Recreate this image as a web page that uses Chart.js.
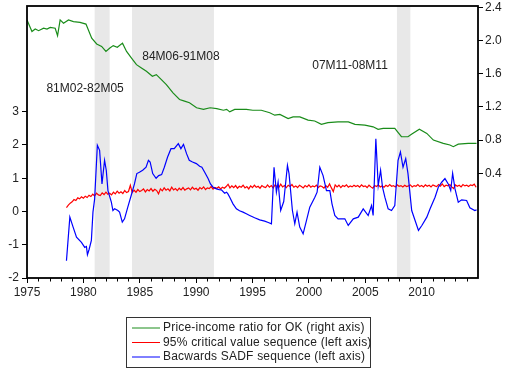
<!DOCTYPE html>
<html>
<head>
<meta charset="utf-8">
<script src="https://cdn.jsdelivr.net/npm/chart.js@4"></script>
<style>
html, body { margin: 0; padding: 0; background: #fff; }
</style>
</head>
<body>
<canvas id="chart" width="506" height="370"></canvas>
<script>
// Price-income ratio (right axis)
const greenYears = [1975.0, 1975.44, 1975.73, 1976.03, 1976.47, 1976.77, 1977.06, 1977.5, 1977.71, 1977.94,
    1978.24, 1978.68, 1979.12, 1979.7, 1980.23, 1980.74, 1981.18, 1981.62, 1982.0, 1982.35,
    1982.65, 1983.01, 1983.47, 1983.83, 1984.27, 1984.71, 1985.15, 1985.59, 1986.12, 1986.47,
    1986.92, 1987.36, 1987.95, 1988.53, 1988.97, 1989.41, 1990.04, 1990.65, 1991.24, 1991.83,
    1992.42, 1992.71, 1992.98, 1993.42, 1994.45, 1995.03, 1995.78, 1996.53, 1996.97, 1997.43,
    1998.16, 1998.6, 1999.2, 1999.93, 2000.52, 2001.11, 2001.69, 2002.58, 2003.5, 2004.09,
    2004.97, 2005.7, 2006.14, 2006.59, 2007.62, 2008.21, 2008.79, 2009.1, 2009.8, 2010.46,
    2011.04, 2011.92, 2012.51, 2012.81, 2013.25, 2014.13, 2014.87];
const greenValues = [2.25, 2.11, 2.14, 2.12, 2.15, 2.14, 2.16, 2.15, 2.06, 2.25,
    2.21, 2.25, 2.23, 2.22, 2.20, 2.03, 1.96, 1.93, 1.87, 1.91,
    1.94, 1.92, 1.97, 1.87, 1.79, 1.71, 1.67, 1.63, 1.57, 1.59,
    1.53, 1.47, 1.37, 1.29, 1.27, 1.25, 1.19, 1.17, 1.19, 1.18,
    1.16, 1.17, 1.14, 1.17, 1.17, 1.16, 1.16, 1.13, 1.10, 1.11,
    1.06, 1.08, 1.08, 1.04, 1.03, 0.99, 1.01, 1.02, 1.02, 0.99,
    0.98, 0.96, 0.93, 0.94, 0.94, 0.84, 0.84, 0.87, 0.93, 0.88,
    0.80, 0.76, 0.74, 0.72, 0.75, 0.76, 0.76];

// 95% critical value sequence (left axis), every two months from 1978M07
const redStart = 1978.5;
const redStep = 1 / 6;
const redValues = [
    0.12, 0.19, 0.25, 0.29, 0.36, 0.33, 0.41, 0.38, 0.44, 0.40, 0.46, 0.42,
    0.49, 0.45, 0.52, 0.47, 0.55, 0.50, 0.48, 0.56, 0.51, 0.58, 0.52, 0.55,
    0.50, 0.58, 0.53, 0.61, 0.55, 0.59, 0.54, 0.63, 0.57, 0.60, 0.79, 0.57,
    0.64, 0.58, 0.66, 0.60, 0.63, 0.68, 0.59, 0.66, 0.62, 0.69, 0.61, 0.67,
    0.63, 0.53, 0.68, 0.62, 0.71, 0.64, 0.68, 0.62, 0.73, 0.65, 0.69, 0.63,
    0.70, 0.65, 0.72, 0.64, 0.68, 0.71, 0.65, 0.73, 0.67, 0.70, 0.64, 0.72,
    0.68, 0.74, 0.66, 0.71, 0.69, 0.75, 0.67, 0.72, 0.70, 0.74, 0.68, 0.73,
    0.70, 0.75, 0.82, 0.71, 0.77, 0.72, 0.78, 0.70, 0.76, 0.73, 0.79, 0.71,
    0.75, 0.68, 0.77, 0.72, 0.79, 0.73, 0.76, 0.70, 0.78, 0.74, 0.72, 0.80,
    0.73, 0.78, 0.71, 0.80, 0.75, 0.72, 0.82, 0.74, 0.78, 0.72, 0.79, 0.75,
    0.81, 0.73, 0.77, 0.72, 0.79, 0.75, 0.71, 0.78, 0.74, 0.80, 0.73, 0.77,
    0.74, 0.79, 0.72, 0.77, 0.75, 0.70, 0.78, 0.73, 0.83, 0.71, 0.60, 0.80,
    0.74, 0.79, 0.72, 0.78, 0.75, 0.80, 0.73, 0.77, 0.74, 0.79, 0.75, 0.78,
    0.73, 0.80, 0.75, 0.77, 0.72, 0.79, 0.74, 0.70, 0.78, 0.75, 0.80, 0.74,
    0.77, 0.73, 0.79, 0.75, 0.81, 0.76, 0.78, 0.74, 0.80, 0.76, 0.78, 0.74,
    0.79, 0.75, 0.77, 0.80, 0.74, 0.78, 0.76, 0.81, 0.75, 0.78, 0.74, 0.80,
    0.76, 0.79, 0.74, 0.80, 0.77, 0.75, 0.81, 0.76, 0.83, 0.75, 0.79, 0.77,
    0.81, 0.74, 0.69, 0.80, 0.76, 0.79, 0.74, 0.81, 0.77, 0.79, 0.75, 0.80,
    0.78, 0.82, 0.73];

// Backwards SADF sequence (left axis)
const blueYears = [
    1978.5, 1978.8, 1979.09, 1979.39, 1979.83, 1980.12, 1980.27, 1980.36, 1980.5, 1980.71,
    1980.85, 1981.0, 1981.24, 1981.44, 1981.65, 1981.88, 1982.03, 1982.18, 1982.48, 1982.62,
    1982.77, 1983.06, 1983.21, 1983.45, 1983.65, 1983.94, 1984.24, 1984.53, 1984.74, 1984.97,
    1985.26, 1985.56, 1985.77, 1985.92, 1986.15, 1986.45, 1986.68, 1986.94, 1987.18, 1987.47,
    1987.77, 1988.06, 1988.42, 1988.65, 1988.88, 1989.15, 1989.39, 1989.68, 1990.02, 1990.31,
    1990.51, 1990.76, 1991.06, 1991.27, 1991.5, 1991.8, 1992.05, 1992.24, 1992.53, 1992.7,
    1992.82, 1992.98, 1993.27, 1993.57, 1993.85, 1994.16, 1994.45, 1994.75, 1995.19, 1995.64,
    1996.08, 1996.4, 1996.68, 1996.91, 1997.12, 1997.27, 1997.5, 1997.77, 1998.1, 1998.24,
    1998.54, 1998.75, 1998.95, 1999.19, 1999.49, 1999.79, 2000.08, 2000.53, 2000.73, 2000.97,
    2001.26, 2001.56, 2001.86, 2002.05, 2002.3, 2002.59, 2003.19, 2003.49, 2003.94, 2004.38,
    2004.82, 2005.26, 2005.56, 2005.7, 2005.94, 2006.15, 2006.36, 2006.53, 2006.74, 2007.03,
    2007.33, 2007.62, 2007.91, 2008.12, 2008.35, 2008.59, 2008.79, 2009.12, 2009.42, 2009.72,
    2010.02, 2010.46, 2010.75, 2011.19, 2011.48, 2011.78, 2012.07, 2012.36, 2012.58, 2012.75,
    2012.96, 2013.25, 2013.55, 2013.99, 2014.28, 2014.72, 2014.87];
const blueValues = [
    -1.48, -0.17, -0.47, -0.77, -0.93, -1.08, -1.05, -1.30, -1.15, -0.87,
    -0.02, 0.38, 1.99, 1.84, 0.83, 1.54, 1.24, 0.63, 0.28, 0.03,
    0.08, 0.03, -0.02, -0.32, -0.22, 0.13, 0.48, 0.83, 1.14, 1.18,
    1.24, 1.33, 1.54, 1.49, 1.14, 1.00, 1.08, 1.11, 1.33, 1.64,
    1.89, 1.89, 2.04, 1.89, 2.02, 1.74, 1.54, 1.49, 1.44, 1.36,
    1.33, 1.18, 0.99, 0.83, 0.73, 0.68, 0.66, 0.65, 0.55, 0.58,
    0.53, 0.43, 0.23, 0.08, 0.02, -0.02, -0.07, -0.12, -0.19, -0.25,
    -0.29, -0.33, -0.37, 1.33, 0.58, 0.88, 0.03, 0.30, 1.39, 1.14,
    0.03, -0.37, -0.02, -0.47, -0.67, -0.27, 0.13, 0.43, 0.58, 1.33,
    1.08, 0.63, 0.63, 0.23, -0.12, -0.22, -0.22, -0.42, -0.22, -0.17,
    0.08, -0.12, 0.18, -0.12, 2.19, 0.78, 1.24, 0.73, 0.43, 0.08,
    0.03, 0.18, 1.54, 1.79, 1.33, 1.59, 1.14, 0.03, -0.27, -0.57,
    -0.42, -0.17, 0.08, 0.43, 0.73, 0.88, 0.99, 0.83, 0.63, 1.15,
    0.68, 0.28, 0.35, 0.33, 0.11, 0.03, 0.05];

// Shaded bubble periods
const periodStart = [1981.0, 1984.31, 2007.81];
const periodEnd = [1982.33, 1991.58, 2009.0];
const periodLabels = ['81M02-82M05', '84M06-91M08', '07M11-08M11'];

const leftTicks = [-2, -1, 0, 1, 2, 3];
const rightTicks = [0.4, 0.8, 1.2, 1.6, 2.0, 2.4];
const yearTicks = [1975, 1980, 1985, 1990, 1995, 2000, 2005, 2010];

const toPoints = (xs, ys) => ys.map((v, i) => ({ x: xs[i], y: v }));
const redYears = redValues.map((v, i) => redStart + i * redStep);

// where the period captions sit (year, left-axis value)
const captionPos = [[1980.15, 3.7], [1988.65, 4.67], [2003.65, 4.4]];

Chart.defaults.font.family = '"Liberation Sans", Arial, sans-serif';
Chart.defaults.font.size = 12;
Chart.defaults.color = '#222';

const decor = {
    id: 'decor',
    beforeDatasetsDraw(chart) {
        const { ctx, chartArea: a, scales } = chart;
        const x = scales.x, y = scales.y;
        ctx.save();
        ctx.fillStyle = '#e8e8e8';
        periodStart.forEach((s, i) => {
            const x0 = x.getPixelForValue(s);
            const x1 = x.getPixelForValue(periodEnd[i]);
            ctx.fillRect(x0, a.top, x1 - x0, a.bottom - a.top);
        });
        ctx.fillStyle = '#222';
        ctx.font = '12px "Liberation Sans", Arial, sans-serif';
        ctx.textAlign = 'center';
        ctx.textBaseline = 'middle';
        periodLabels.forEach((t, i) => {
            ctx.fillText(t, x.getPixelForValue(captionPos[i][0]), y.getPixelForValue(captionPos[i][1]));
        });
        ctx.restore();
    },
    afterDraw(chart) {
        const { ctx, chartArea: a, scales } = chart;
        const x = scales.x;
        ctx.save();
        // minor year ticks
        ctx.strokeStyle = '#000';
        ctx.lineWidth = 1;
        for (let yr = 1976; yr < 2015; yr++) {
            if (yr % 5 === 0) continue;
            const px = Math.round(x.getPixelForValue(yr)) + 0.5;
            ctx.beginPath();
            ctx.moveTo(px, a.bottom);
            ctx.lineTo(px, a.bottom + 3.5);
            ctx.stroke();
        }
        // frame
        ctx.lineWidth = 1.8;
        ctx.strokeRect(a.left, a.top, a.right - a.left, a.bottom - a.top);

        // legend box
        const bx = 126, by = 317, bw = 244, bh = 50;
        ctx.lineWidth = 1;
        ctx.strokeStyle = '#333';
        ctx.strokeRect(bx + 0.5, by + 0.5, bw, bh);
        ctx.font = '12px "Liberation Sans", Arial, sans-serif';
        ctx.letterSpacing = '0.2px';
        ctx.textAlign = 'left';
        ctx.textBaseline = 'middle';
        chart.data.datasets.forEach((ds, i) => {
            const ly = by + 11 + i * 14.5;
            ctx.strokeStyle = ds.borderColor;
            ctx.lineWidth = 1;
            ctx.beginPath();
            ctx.moveTo(bx + 6, ly);
            ctx.lineTo(bx + 34, ly);
            ctx.stroke();
            ctx.fillStyle = '#222';
            ctx.fillText(ds.label, bx + 37, ly);
        });
        ctx.restore();
    }
};

new Chart(document.getElementById('chart'), {
    type: 'line',
    data: {
        datasets: [{
            label: 'Price-income ratio for OK (right axis)',
            data: toPoints(greenYears, greenValues),
            yAxisID: 'y1',
            borderColor: '#1a8c1a',
            borderWidth: 1.2,
            order: 2
        }, {
            label: '95% critical value sequence (left axis)',
            data: toPoints(redYears, redValues),
            yAxisID: 'y',
            borderColor: '#ff0000',
            borderWidth: 1.2,
            order: 1
        }, {
            label: 'Bacwards SADF sequence (left axis)',
            data: toPoints(blueYears, blueValues),
            yAxisID: 'y',
            borderColor: '#0000ff',
            borderWidth: 1.2,
            order: 0
        }]
    },
    options: {
        responsive: false,
        animation: false,
        devicePixelRatio: 1,
        elements: { point: { radius: 0 }, line: { tension: 0 } },
        layout: { padding: { top: 6, bottom: 68, left: 0, right: 0 } },
        plugins: {
            legend: { display: false },
            tooltip: { enabled: false }
        },
        scales: {
            x: {
                type: 'linear',
                min: 1975,
                max: 2015,
                afterBuildTicks: s => { s.ticks = yearTicks.map(v => ({ value: v })); },
                afterFit: s => { s.height = 24; s.paddingLeft = 0; s.paddingRight = 0; },
                ticks: { padding: 2, callback: v => String(v), maxRotation: 0, color: '#222' },
                grid: { drawOnChartArea: false, tickLength: 5, tickColor: '#000' },
                border: { display: false }
            },
            y: {
                position: 'left',
                min: -2,
                max: 6.18,
                afterBuildTicks: s => { s.ticks = leftTicks.map(v => ({ value: v })); },
                afterFit: s => { s.width = 27; s.paddingTop = 0; s.paddingBottom = 0; },
                ticks: { padding: 3, callback: v => String(v), color: '#222' },
                grid: { drawOnChartArea: false, tickLength: 5, tickColor: '#000' },
                border: { display: false }
            },
            y1: {
                position: 'right',
                min: -0.865,
                max: 2.418,
                afterBuildTicks: s => { s.ticks = rightTicks.map(v => ({ value: v })); },
                afterFit: s => { s.width = 28; s.paddingTop = 0; s.paddingBottom = 0; },
                ticks: { padding: 2, callback: v => v.toFixed(1), color: '#222' },
                grid: { drawOnChartArea: false, tickLength: 5, tickColor: '#000' },
                border: { display: false }
            }
        }
    },
    plugins: [decor]
});
</script>
</body>
</html>
